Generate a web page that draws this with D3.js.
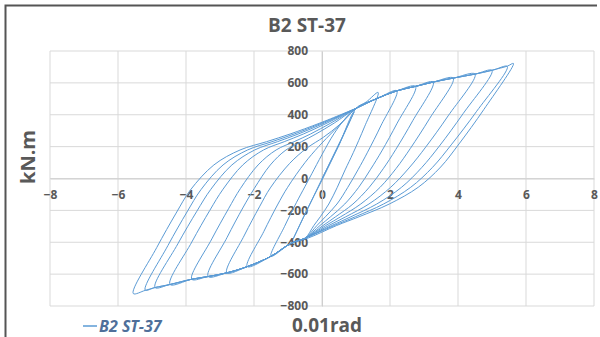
<!DOCTYPE html>
<html>
<head>
<meta charset="utf-8">
<script src="https://cdn.jsdelivr.net/npm/d3@7"></script>
<style>
  body { margin: 0; background: #fff; }
  svg { display: block; font-family: "Open Sans", sans-serif; }
  .tick text { font-weight: bold; fill: #595959; font-size: 12px; }
</style>
</head>
<body>
<div id="chart"></div>
<script>
// hysteresis record, one array per loading cycle: [rotation (0.01 rad), moment (kN.m)]
const cycle01 = [[0,0],[0.45,190],[0.95,420],[0.55,240],[0.05,20],[-0.4,-180],[-0.85,-380],[-0.45,-200],[0.0,-10],[0.5,210],[1.0,440]];
const cycle02 = [[1.3,480],[1.65,540],[1.25,324],[0.92,162],[0.68,54],[0.45,-55],[0.2,-160],[-0.05,-240],[-0.24,-295],[-0.5,-375],[-0.9,-405],[-1.5,-488],
  [-1.1,-300],[-0.75,-150],[-0.5,-50],[-0.3,30],[0.0,150],[0.35,280],[0.7,380],[1.0,440]];
const cycle03 = [[1.65,505],[2.2,550],[1.73,330],[1.34,165],[1.06,55],[0.76,-55],[0.44,-160],[0.1,-240],[-0.15,-295],[-0.5,-375],[-0.9,-405],[-1.5,-488],[-2.2,-553],
  [-1.71,-332],[-1.31,-166],[-1.01,-55],[-0.5,100],[-0.1,200],[0.35,300],[0.7,375],[1.0,440]];
const cycle04 = [[1.65,505],[2.2,550],[2.75,578],[2.21,347],[1.76,173],[1.43,58],[1.08,-55],[0.67,-160],[0.25,-240],[-0.06,-295],[-0.5,-375],[-0.9,-405],[-1.5,-488],[-2.2,-553],[-2.8,-592],
  [-2.28,-355],[-1.84,-178],[-1.52,-59],[-0.95,95],[-0.45,190],[0.05,260],[0.5,335],[1.0,440]];
const cycle05 = [[1.65,505],[2.2,550],[2.75,578],[3.27,605],[2.67,363],[2.17,182],[1.8,61],[1.39,-55],[0.91,-160],[0.4,-240],[0.03,-295],[-0.5,-375],[-0.9,-405],[-1.5,-488],[-2.2,-553],[-2.8,-592],[-3.35,-615],
  [-2.79,-369],[-2.33,-185],[-1.99,-62],[-1.52,85],[-1.06,179],[-0.6,231],[-0.18,279],[0.36,348],[1.0,440]];
const cycle06 = [[1.65,505],[2.2,550],[2.75,578],[3.27,605],[3.86,630],[3.17,378],[2.6,189],[2.18,63],[1.71,-55],[1.14,-160],[0.55,-240],[0.11,-295],[-0.5,-375],[-0.9,-405],[-1.5,-488],[-2.2,-553],[-2.8,-592],[-3.35,-615],[-3.83,-632],
  [-3.24,-379],[-2.75,-190],[-2.4,-63],[-1.88,85],[-1.35,179],[-0.82,231],[-0.34,279],[0.26,348],[1.0,440]];
const cycle07 = [[1.65,505],[2.2,550],[2.75,578],[3.27,605],[3.86,630],[4.5,655],[3.71,393],[3.05,197],[2.56,66],[2.02,-55],[1.38,-160],[0.7,-240],[0.2,-295],[-0.5,-375],[-0.9,-405],[-1.5,-488],[-2.2,-553],[-2.8,-592],[-3.35,-615],[-3.83,-632],[-4.47,-665],
  [-3.83,-399],[-3.3,-200],[-2.91,-67],[-2.33,85],[-1.72,179],[-1.11,231],[-0.55,279],[0.15,348],[1.0,440]];
const cycle08 = [[1.65,505],[2.2,550],[2.75,578],[3.27,605],[3.86,630],[4.5,655],[5.0,678],[4.15,407],[3.45,203],[2.93,68],[2.34,-55],[1.61,-160],[0.85,-240],[0.29,-295],[-0.5,-375],[-0.9,-405],[-1.5,-488],[-2.2,-553],[-2.8,-592],[-3.35,-615],[-3.83,-632],[-4.47,-665],[-4.91,-684],
  [-4.24,-410],[-3.68,-205],[-3.27,-68],[-2.65,85],[-1.98,179],[-1.31,231],[-0.7,279],[0.07,348],[1.0,440]];
const cycle09 = [[1.65,505],[2.2,550],[2.75,578],[3.27,605],[3.86,630],[4.5,655],[5.0,678],[5.45,703],[4.55,422],[3.8,211],[3.25,70],[2.61,-55],[1.81,-160],[0.98,-240],[0.36,-295],[-0.5,-375],[-0.9,-405],[-1.5,-488],[-2.2,-553],[-2.8,-592],[-3.35,-615],[-3.83,-632],[-4.47,-665],[-4.91,-684],[-5.2,-700],
  [-4.53,-420],[-3.97,-210],[-3.56,-70],[-2.91,85],[-2.19,179],[-1.47,231],[-0.82,279],[0.0,348],[1.0,440]];
const cycle10 = [[1.65,505],[2.2,550],[2.75,578],[3.27,605],[3.86,630],[4.5,655],[5.0,680],[5.45,705],[5.63,722],[4.76,433],[4.03,217],[3.49,72],[2.83,-55],[1.98,-160],[1.09,-240],[0.43,-295],[-0.4,-373],[-0.9,-405],[-1.5,-488],[-2.2,-553],[-2.8,-592],[-3.35,-615],[-3.83,-632],[-4.47,-665],[-4.91,-684],[-5.2,-702],[-5.55,-722],
  [-4.86,-433],[-4.29,-217],[-3.87,-72],[-3.18,85],[-2.41,179],[-1.63,231],[-0.94,279],[-0.06,348],[1.0,440]];

const cycles = [cycle01, cycle02, cycle03, cycle04, cycle05, cycle06, cycle07, cycle08, cycle09, cycle10];
const xTicks = [-8, -6, -4, -2, 0, 2, 4, 6, 8];
const yTicks = [-800, -600, -400, -200, 0, 200, 400, 600, 800];
const seriesName = 'B2 ST-37';

const W = 600, H = 337;
const svg = d3.select('#chart').append('svg').attr('width', W).attr('height', H);

// frame edges (top and left)
svg.append('path')
    .attr('d', 'M5.5,337V5.5H597')
    .attr('fill', 'none')
    .attr('stroke', '#555')
    .attr('stroke-width', 2);

const x = d3.scaleLinear().domain([-8, 8]).range([50, 594]);
const y = d3.scaleLinear().domain([-800, 800]).range([306, 51]);

// grid
svg.append('g').selectAll('line').data(xTicks).join('line')
    .attr('x1', d => x(d)).attr('x2', d => x(d))
    .attr('y1', y(800)).attr('y2', y(-800))
    .attr('stroke', '#d9d9d9');
svg.append('g').selectAll('line').data(yTicks).join('line')
    .attr('x1', x(-8)).attr('x2', x(8))
    .attr('y1', d => y(d)).attr('y2', d => y(d))
    .attr('stroke', '#d9d9d9');

// axes crossing at origin
const gx = svg.append('g')
    .attr('transform', 'translate(0,' + y(0) + ')')
    .call(d3.axisBottom(x).tickValues(xTicks).tickSize(0).tickPadding(12));
gx.select('.domain').attr('stroke', '#cfcfcf');
const gy = svg.append('g')
    .attr('transform', 'translate(' + x(0) + ',0)')
    .call(d3.axisLeft(y).tickValues(yTicks).tickSize(0).tickPadding(14));
gy.select('.domain').attr('stroke', '#cfcfcf');
svg.selectAll('.tick text').attr('font-family', '"Open Sans", sans-serif');

// loops
const line = d3.line()
    .x(d => x(d[0]))
    .y(d => y(d[1]))
    .curve(d3.curveCatmullRom.alpha(0.5));

svg.append('path')
    .datum(d3.merge(cycles))
    .attr('fill', 'none')
    .attr('stroke', '#5b9bd5')
    .attr('stroke-width', 1)
    .attr('d', line);

// titles
svg.append('text')
    .attr('x', 307).attr('y', 32)
    .attr('text-anchor', 'middle')
    .attr('font-size', 19).attr('font-weight', 'bold')
    .attr('fill', '#595959')
    .text('B2 ST-37');
svg.append('text')
    .attr('transform', 'translate(35,157) rotate(-90)')
    .attr('text-anchor', 'middle')
    .attr('font-size', 20).attr('font-weight', 'bold')
    .attr('fill', '#595959')
    .text('kN.m');
svg.append('text')
    .attr('x', 327).attr('y', 332)
    .attr('text-anchor', 'middle')
    .attr('font-size', 19).attr('font-weight', 'bold')
    .attr('fill', '#595959')
    .text('0.01rad');

// legend
svg.append('line')
    .attr('x1', 83).attr('x2', 97)
    .attr('y1', 326).attr('y2', 326)
    .attr('stroke', '#5b9bd5').attr('stroke-width', 1.5);
svg.append('text')
    .attr('x', 99).attr('y', 332)
    .attr('font-size', 16).attr('font-weight', 'bold').attr('font-style', 'italic')
    .attr('fill', '#4f6f9a')
    .text(seriesName);
</script>
</body>
</html>
